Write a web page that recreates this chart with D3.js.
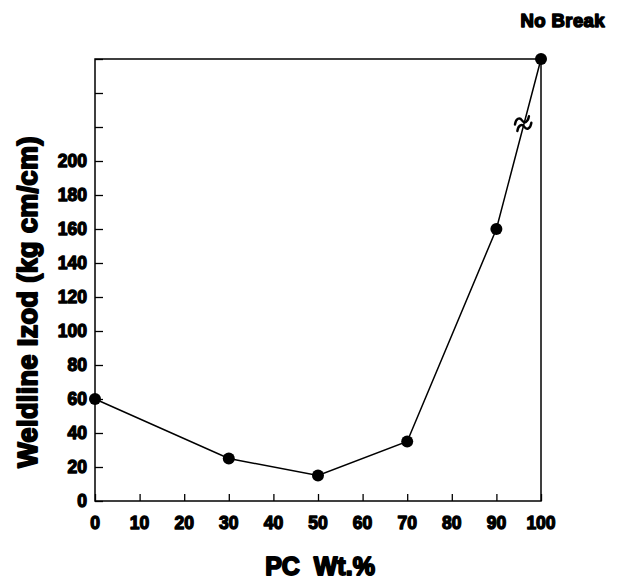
<!DOCTYPE html>
<html>
<head>
<meta charset="utf-8">
<script src="https://cdn.jsdelivr.net/npm/d3@7"></script>
<style>
  html, body { margin: 0; padding: 0; background: #fff; }
  svg { display: block; }
  text { font-family: "Liberation Sans", Arial, sans-serif; font-weight: bold; fill: #000; }
</style>
</head>
<body>
<div id="chart"></div>
<script>
// data
const pcWt = [0, 30, 50, 70, 90, 100];
const izod = [60, 25, 15, 35, 160, 260]; // last point = "No Break", drawn at the top of the axis
const yTicks = [0, 20, 40, 60, 80, 100, 120, 140, 160, 180, 200, 220, 240, 260];
const yLabels = [0, 20, 40, 60, 80, 100, 120, 140, 160, 180, 200];
const xTicks = [0, 10, 20, 30, 40, 50, 60, 70, 80, 90, 100];

const width = 621;
const height = 579;
const margin = { left: 95, right: 80, top: 59, bottom: 78 };

const svg = d3.select("#chart").append("svg")
  .attr("width", width)
  .attr("height", height);

const x = d3.scaleLinear().domain([0, 100]).range([margin.left, width - margin.right]);
const y = d3.scaleLinear().domain([0, 260]).range([height - margin.bottom, margin.top]);

// the original uses a black-weight face; fake it with a stroke
const heavy = w => sel => sel
  .style("stroke", "#000")
  .style("stroke-width", w)
  .style("stroke-linejoin", "round")
  .style("paint-order", "stroke");

// frame
svg.append("rect")
  .attr("x", x(0))
  .attr("y", y(260))
  .attr("width", x(100) - x(0))
  .attr("height", y(0) - y(260))
  .attr("fill", "none")
  .attr("stroke", "#000")
  .attr("stroke-width", 1.5);

// y axis: inward ticks
const yAxis = svg.append("g")
  .attr("transform", `translate(${x(0)},0)`)
  .call(d3.axisRight(y).tickValues(yTicks).tickSize(8).tickFormat(""));
yAxis.select(".domain").remove();
yAxis.selectAll("line").attr("stroke-width", 1.3);

svg.append("g").selectAll("text")
  .data(yLabels)
  .join("text")
  .attr("x", x(0) - 8)
  .attr("y", d => y(d))
  .attr("dy", "0.36em")
  .attr("text-anchor", "end")
  .style("font-size", "17.5px")
  .text(d => d)
  .call(heavy(1.3));

// x axis: inward ticks
const xAxis = svg.append("g")
  .attr("transform", `translate(0,${y(0)})`)
  .call(d3.axisTop(x).tickValues(xTicks).tickSize(7).tickFormat(""));
xAxis.select(".domain").remove();
xAxis.selectAll("line").attr("stroke-width", 1.3);

svg.append("g").selectAll("text")
  .data(xTicks)
  .join("text")
  .attr("x", d => x(d))
  .attr("y", y(0) + 22)
  .attr("dy", "0.36em")
  .attr("text-anchor", "middle")
  .style("font-size", "17.5px")
  .text(d => d)
  .call(heavy(1.3));

// axis titles
svg.append("text")
  .attr("x", x(50) + 2)
  .attr("y", 575)
  .attr("text-anchor", "middle")
  .attr("xml:space", "preserve")
  .style("font-size", "25px")
  .text("PC  Wt.%")
  .call(heavy(1.8));

svg.append("text")
  .attr("transform", `translate(37,302) rotate(-90)`)
  .attr("text-anchor", "middle")
  .style("font-size", "27px")
  .style("letter-spacing", "0.4px")
  .text("Weldline Izod (kg cm/cm)")
  .call(heavy(1.9));

// data line
const pts = pcWt.map((d, i) => [d, izod[i]]);
svg.append("path")
  .datum(pts)
  .attr("fill", "none")
  .attr("stroke", "#000")
  .attr("stroke-width", 1.5)
  .attr("d", d3.line().x(d => x(d[0])).y(d => y(d[1])));

svg.append("g").selectAll("circle")
  .data(pts)
  .join("circle")
  .attr("cx", d => x(d[0]))
  .attr("cy", d => y(d[1]))
  .attr("r", 6)
  .attr("fill", "#000");

// axis break mark (two small waves) on the last segment
const brk = svg.append("g")
  .attr("transform", `translate(${x(96)},${y(222)}) rotate(-20)`);
[-3.5, 3.5].forEach(off => {
  brk.append("path")
    .attr("d", `M-8,${off + 1.5} C-5,${off - 4} -1,${off - 4} 0,${off} S5,${off + 4} 8,${off - 1.5}`)
    .attr("fill", "none")
    .attr("stroke", "#000")
    .attr("stroke-width", 2.4)
    .attr("stroke-linecap", "round");
});

// "No Break" note
svg.append("text")
  .attr("x", 605)
  .attr("y", 27)
  .attr("text-anchor", "end")
  .style("font-size", "18.5px")
  .style("letter-spacing", "0.4px")
  .text("No Break")
  .call(heavy(1.5));
</script>
</body>
</html>
